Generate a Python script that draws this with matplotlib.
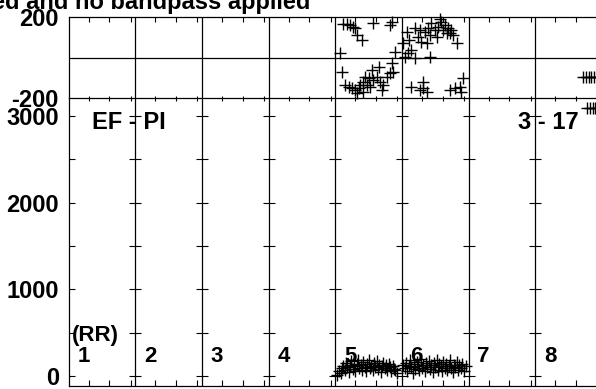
import numpy as np
import matplotlib
matplotlib.use('Agg')
import matplotlib.pyplot as plt

plt.rcParams['font.family'] = ['Liberation Sans', 'DejaVu Sans']
plt.rcParams['font.weight'] = 'bold'
plt.rcParams['axes.unicode_minus'] = False

W, H = 596, 389

# phase points (x in segment units, phase in degrees)
fase_x = [4.12, 4.18, 4.22, 4.27, 4.30, 4.32, 4.40, 4.57, 4.82, 4.85, 4.07, 4.90, 4.85,
          4.10, 4.15, 4.20, 4.25, 4.30, 4.35, 4.37, 4.42, 4.45, 4.50, 4.55, 4.57, 4.62,
          4.67, 4.70, 4.72, 4.77, 4.82, 4.87, 4.42, 4.32, 4.65, 4.47, 4.52,
          5.07, 5.10, 5.19, 5.24, 5.29, 5.34, 5.39, 5.44, 5.49, 5.54, 5.59, 5.62, 5.64,
          5.69, 5.72, 5.77, 5.82, 5.52, 5.42, 5.67, 5.74, 5.57, 5.27, 5.14, 5.04, 5.09,
          5.19, 5.42, 5.02, 5.37,
          5.14, 5.27, 5.32, 5.37, 5.72, 5.79, 5.87, 5.92, 5.89, 5.32]
fase_y = [165, 168, 162, 150, 144, 111, 87, 169, 161, 177, 21, 29, -28,
          -69, -135, -143, -151, -159, -151, -135, -118, -94, -102, -61, -110, -94,
          -118, -159, -135, -94, -77, -69, -167, -175, -45, -135, -143,
          128, 87, 144, 103, 79, 128, 144, 169, 136, 152, 177, 136, 161,
          144, 120, 111, 70, 103, 111, 120, 136, 192, 136, 38, 5, 21,
          -3, 5, 70, 70,
          -142, -159, -118, -167, -159, -151, -142, -101, -167, -151]

# amplitude points
amp_x = [4.02, 4.05, 4.08, 4.10, 4.12, 4.14, 4.16, 4.18, 4.20, 4.22, 4.24, 4.26, 4.28,
         4.30, 4.32, 4.34, 4.36, 4.38, 4.40, 4.42, 4.44, 4.46, 4.48, 4.50, 4.52, 4.54,
         4.56, 4.58, 4.60, 4.62, 4.64, 4.66, 4.68, 4.70, 4.72, 4.74, 4.76, 4.78, 4.80,
         4.82, 4.84, 4.86, 4.88, 4.90, 4.93,
         5.02, 5.04, 5.06, 5.08, 5.10, 5.12, 5.14, 5.16, 5.18, 5.20, 5.22, 5.24, 5.26,
         5.28, 5.30, 5.32, 5.34, 5.36, 5.38, 5.40, 5.42, 5.44, 5.46, 5.48, 5.50, 5.52,
         5.54, 5.56, 5.58, 5.60, 5.62, 5.64, 5.66, 5.68, 5.70, 5.72, 5.74, 5.76, 5.78,
         5.80, 5.82, 5.84, 5.86, 5.88, 5.90, 5.93, 5.96]
amp_y = [15, 60, 30, 95, 120, 70, 150, 100, 45, 130, 170, 85, 110,
         60, 140, 190, 95, 125, 75, 160, 105, 55, 135, 180, 90, 115,
         65, 145, 100, 170, 80, 125, 50, 110, 155, 90, 130, 70, 140,
         100, 60, 120, 85, 75, 40,
         130, 90, 150, 60, 120, 180, 100, 40, 140, 85, 160, 110, 65,
         200, 95, 130, 55, 150, 105, 175, 80, 125, 45, 145, 100, 190,
         70, 135, 115, 60, 165, 95, 140, 75, 120, 185, 90, 50, 130,
         105, 160, 70, 125, 95, 140, 60, 110]

# points at the right edge (segment 8)
borda_x = [7.72, 7.76, 7.80, 7.84, 7.88, 7.92, 7.96]
borda_fase = [-94, -94, -94, -94, -94, -94, -94]
borda2_x = [7.78, 7.82, 7.86, 7.90, 7.94]
borda2_amp = [3090, 3090, 3090, 3090, 3090]

segmentos = ['1', '2', '3', '4', '5', '6', '7', '8']

fig = plt.figure(figsize=(W / 100, H / 100), dpi=100)

x0 = 68.5
seg = 66.67
larg = 8 * seg
ax_a = fig.add_axes([x0 / W, 1 - 386 / H, larg / W, (386 - 98.3) / H])
ax_f = fig.add_axes([x0 / W, 1 - 98.3 / H, larg / W, (98.3 - 17) / H])
ax_f.set_zorder(3)
ax_f.patch.set_visible(False)

marca = dict(marker='+', ms=8, mew=1.0, color='k', ls='none')

# phase panel
ax_f.plot(fase_x, fase_y, clip_on=False, **marca)
ax_f.plot(borda_x, borda_fase, clip_on=False, **marca)
ax_f.set_xlim(0, 8)
ax_f.set_ylim(-200, 200)
ax_f.axhline(0, color='k', lw=0.9)
for k in range(1, 8):
    ax_f.axvline(k, color='k', lw=0.9)
ax_f.set_yticks([-200, 200])
ax_f.set_yticklabels(['-200', '200'])
ax_f.tick_params(axis='y', length=0, pad=7, labelsize=17)
xt = [k + o for k in range(8) for o in (0.3, 0.61, 0.93)]
ax_f.set_xticks(xt)
ax_f.tick_params(axis='x', top=True, bottom=False, direction='in', length=3.4,
                 labelbottom=False, width=0.8)
for s in ax_f.spines.values():
    s.set_linewidth(0.9)

# little crossing ticks at the panel boundary
ax_f.plot(xt, [-200] * len(xt), marker='|', ms=3.6, mew=0.8, color='k', ls='none',
          clip_on=False)

# amplitude panel
ax_a.plot(amp_x, amp_y, **marca)
ax_a.plot(borda2_x, borda2_amp, **marca)
ax_a.set_xlim(0, 8)
ax_a.set_ylim(-115, 3204)
for k in range(1, 8):
    ax_a.axvline(k, color='k', lw=0.9)
ax_a.spines['top'].set_visible(False)
for s in ax_a.spines.values():
    s.set_linewidth(0.9)
ax_a.set_yticks([0, 1000, 2000, 3000])
ax_a.set_yticks([500, 1500, 2500], minor=True)
ax_a.tick_params(axis='y', which='both', direction='in', length=4.3, width=0.8,
                 pad=7, labelsize=17)
ax_a.set_xticks(xt)
ax_a.tick_params(axis='x', direction='in', length=4.3, width=0.8, labelbottom=False)

# crossing ticks on the separators
yv = [0, 500, 1000, 1500, 2000, 2500, 3000]
for k in range(1, 8):
    ax_a.plot([k] * len(yv), yv, marker='_', ms=8, mew=0.8, color='k', ls='none')

ax_a.text(0.35, 2920, 'EF - PI', fontsize=17, fontweight='bold', va='center', ha='left')
ax_a.text(6.74, 2920, '3 - 17', fontsize=17, fontweight='bold', va='center', ha='left')
ax_a.text(0.05, 473, '(RR)', fontsize=16, fontweight='bold', va='center', ha='left')
for k, s in enumerate(segmentos):
    ax_a.text(k + 0.13, 231, s, fontsize=16, fontweight='bold', va='center', ha='left')

fig.text(310 / W, 1 - 8.5 / H, 'ed and no bandpass applied', fontsize=17,
         fontweight='bold', ha='right', va='baseline')

fig.savefig('out.png', dpi=100, facecolor='white')
